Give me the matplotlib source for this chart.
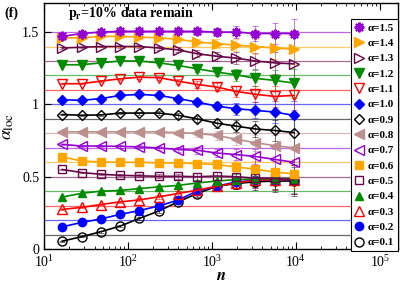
import matplotlib
matplotlib.use("Agg")
import matplotlib.pyplot as plt
from matplotlib.ticker import LogLocator, NullFormatter, FixedLocator
import numpy as np

plt.rcParams['font.family'] = ['Liberation Serif', 'DejaVu Serif']
plt.rcParams['mathtext.fontset'] = 'stix'

# ---- data ----
n = [16.5, 28, 47.5, 81, 137, 233, 395, 670, 1140, 1940, 3290, 5590, 9500]
alphas = [1.5, 1.4, 1.3, 1.2, 1.1, 1.0, 0.9, 0.8, 0.7, 0.6, 0.5, 0.4, 0.3, 0.2, 0.1]
a15 = [1.47, 1.49, 1.50, 1.505, 1.505, 1.505, 1.505, 1.505, 1.50, 1.50, 1.49, 1.49, 1.49]
a14 = [1.46, 1.46, 1.47, 1.47, 1.465, 1.46, 1.45, 1.43, 1.42, 1.41, 1.40, 1.39, 1.38]
a13 = [1.39, 1.395, 1.40, 1.40, 1.40, 1.39, 1.377, 1.35, 1.333, 1.32, 1.30, 1.287, 1.28]
a12 = [1.274, 1.274, 1.287, 1.30, 1.30, 1.287, 1.269, 1.246, 1.223, 1.205, 1.18, 1.166, 1.147]
a11 = [1.143, 1.143, 1.161, 1.177, 1.188, 1.185, 1.161, 1.138, 1.12, 1.09, 1.07, 1.055, 1.062]
a10 = [1.032, 1.028, 1.04, 1.062, 1.069, 1.062, 1.04, 1.016, 0.988, 0.97, 0.959, 0.947, 0.924]
a09 = [0.93, 0.925, 0.927, 0.94, 0.94, 0.94, 0.925, 0.90, 0.87, 0.85, 0.83, 0.82, 0.805]
a08 = [0.81, 0.81, 0.81, 0.81, 0.81, 0.81, 0.805, 0.80, 0.785, 0.76, 0.735, 0.715, 0.70]
a07 = [0.724, 0.712, 0.712, 0.71, 0.706, 0.699, 0.688, 0.683, 0.664, 0.653, 0.64, 0.62, 0.60]
a06 = [0.637, 0.609, 0.602, 0.60, 0.60, 0.595, 0.595, 0.59, 0.585, 0.567, 0.553, 0.532, 0.52]
a05 = [0.55, 0.529, 0.517, 0.51, 0.506, 0.503, 0.503, 0.50, 0.505, 0.50, 0.49, 0.488, 0.48]
a04 = [0.36, 0.385, 0.40, 0.405, 0.418, 0.43, 0.44, 0.457, 0.47, 0.48, 0.485, 0.487, 0.487]
a03 = [0.274, 0.288, 0.308, 0.326, 0.34, 0.361, 0.384, 0.407, 0.434, 0.457, 0.476, 0.48, 0.48]
a02 = [0.154, 0.184, 0.208, 0.24, 0.266, 0.298, 0.338, 0.402, 0.434, 0.464, 0.475, 0.48, 0.48]
a01 = [0.055, 0.085, 0.12, 0.159, 0.212, 0.263, 0.326, 0.384, 0.434, 0.453, 0.465, 0.47, 0.47]
err = [0.004, 0.005, 0.006, 0.008, 0.01, 0.013, 0.017, 0.023, 0.03, 0.04, 0.055, 0.075, 0.1]
series = [a15, a14, a13, a12, a11, a10, a09, a08, a07, a06, a05, a04, a03, a02, a01]
labels = ['α=1.5', 'α=1.4', 'α=1.3', 'α=1.2', 'α=1.1', 'α=1.0', 'α=0.9', 'α=0.8',
          'α=0.7', 'α=0.6', 'α=0.5', 'α=0.4', 'α=0.3', 'α=0.2', 'α=0.1']

# ---- styles ----
colors = ['#9400D3', '#FFA500', '#670748', '#008B00', '#FF0000', '#0000FF', '#000000',
          '#BC8F8F', '#9400D3', '#FFA500', '#670748', '#008B00', '#FF0000', '#0000FF', '#000000']
markers = [(8, 2, 0), '>', '>', 'v', 'v', 'D', 'D', '<', '<', 's', 's', '^', '^', 'o', 'o']
filled = [True, True, False, True, False, True, False, True, False, True, False, True, False, True, False]
msizes = [7, 6.5, 6.5, 6.5, 6.5, 5, 5, 6.5, 6.5, 5.5, 5.5, 6, 6.5, 6, 6.5]

fig = plt.figure(figsize=(4.0, 2.84), dpi=100)
ax = fig.add_axes([0.11, 0.123, 0.885, 0.866])

handles = []
for i in range(len(alphas) - 1, -1, -1):
    c = colors[i]
    ax.axhline(alphas[i], color=c, lw=0.9, alpha=0.6, zorder=1)
    ax.errorbar(n, series[i], yerr=err, fmt='none', ecolor=c, elinewidth=0.7,
                capsize=2.5, capthick=0.7, alpha=0.5, zorder=2)
    fc = c if filled[i] else 'none'
    mew = 1.5 if i == 0 else 1.0
    h, = ax.plot(n, series[i], color=c, lw=1.2, marker=markers[i], ms=msizes[i],
                 mfc=fc, mec=c, mew=mew, zorder=3 + (15 - i) * 0.01)
    handles.append((i, h))

handles.sort(key=lambda t: t[0])
leg_handles = []
for i, h in handles:
    fc = colors[i] if filled[i] else 'none'
    lh, = ax.plot([], [], ls='none', marker=markers[i], ms=msizes[i], mfc=fc,
                  mec=colors[i], mew=1.5 if i == 0 else 1.0)
    leg_handles.append(lh)

leg = ax.legend(leg_handles, labels, loc='upper right', bbox_to_anchor=(1.0, 0.935),
                frameon=True, fancybox=False, edgecolor='black', framealpha=1,
                prop={'family': 'Liberation Serif', 'weight': 'bold', 'size': 8},
                handlelength=0.8, handletextpad=0.4, labelspacing=0.5,
                borderpad=0.35, borderaxespad=0.0)
leg.get_frame().set_linewidth(0.8)
leg.set_zorder(10)

ax.set_xscale('log')
ax.set_xlim(10, 1.65e5)
ax.set_ylim(0, 1.7)
ax.yaxis.set_major_locator(FixedLocator([0, 0.5, 1, 1.5]))
ax.set_yticklabels(['0', '0.5', '1', '1.5'])
ax.xaxis.set_major_locator(LogLocator(base=10, numticks=10))
ax.xaxis.set_minor_locator(LogLocator(base=10, subs=np.arange(2, 10), numticks=20))
ax.xaxis.set_minor_formatter(NullFormatter())
ax.tick_params(which='both', direction='in', top=True, right=True, labelsize=10)
ax.tick_params(which='major', length=5, width=0.8)
ax.tick_params(which='minor', length=2.5, width=0.6)
for s in ax.spines.values():
    s.set_linewidth(1.0)

ax.set_xlabel(r'$\boldsymbol{n}$', fontsize=12, labelpad=-1)
ax.set_ylabel(r'$\alpha_{\rm loc}$', fontsize=13, labelpad=4)
ax.text(0.245, 0.958, r'$\mathbf{p_r}$=10% data remain', transform=ax.transAxes,
        ha='center', va='center', fontsize=10, fontweight='bold')
fig.text(0.01, 0.955, '(f)', fontsize=10, fontweight='bold', ha='left', va='center')

fig.savefig('out.png', dpi=100)
